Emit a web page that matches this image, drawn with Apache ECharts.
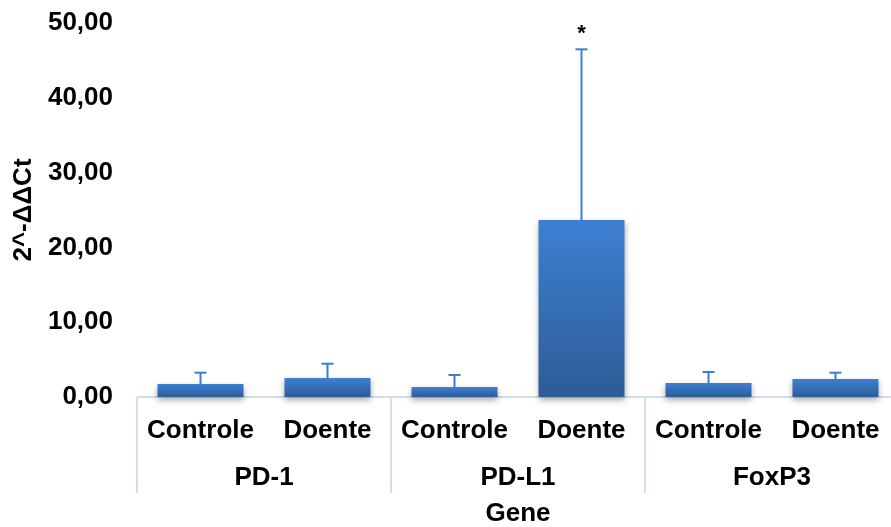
<!DOCTYPE html>
<html>
<head>
<meta charset="utf-8">
<script src="https://cdn.jsdelivr.net/npm/echarts@6/dist/echarts.min.js"></script>
<style>
  html, body { margin: 0; padding: 0; background: #ffffff; overflow: hidden; }
  #chart { width: 891px; height: 527px; }
</style>
</head>
<body>
<div id="chart"></div>
<script>
// Relative expression (2^-ΔΔCt) per gene and group
const genes = ['PD-1', 'PD-L1', 'FoxP3'];
const groups = ['Controle', 'Doente', 'Controle', 'Doente', 'Controle', 'Doente'];
const means = [1.74, 2.54, 1.34, 23.66, 1.87, 2.41];
const errors = [1.51, 1.91, 1.60, 22.82, 1.47, 0.84];
const significance = ['', '', '', '*', '', ''];
const yTicks = { min: 0, max: 50, interval: 10 };

const FONT = '"Liberation Sans", Arial, sans-serif';
const BLUE = '#3b7dce';
const AXIS_BLUE = '#cfdef0';

const chart = echarts.init(document.getElementById('chart'), null, { renderer: 'canvas' });

const errorData = means.map((m, i) => [i, m, m + errors[i]]);

chart.setOption({
  animation: false,
  backgroundColor: '#ffffff',
  grid: { left: 137, width: 762, top: 23, height: 374, containLabel: false, outerBoundsMode: 'none' },
  xAxis: [
    {
      type: 'category',
      data: groups,
      position: 'bottom',
      axisLine: { show: true, lineStyle: { color: AXIS_BLUE, width: 2 } },
      axisTick: { show: false },
      axisLabel: { interval: 0, color: '#000', fontFamily: FONT, fontWeight: 'bold', fontSize: 26, margin: 21 },
      name: 'Gene',
      nameLocation: 'middle',
      nameGap: 104,
      nameTextStyle: { color: '#000', fontFamily: FONT, fontWeight: 'bold', fontSize: 26 }
    },
    {
      type: 'category',
      data: genes,
      position: 'bottom',
      offset: 0,
      axisLine: { show: false },
      axisTick: { show: true, length: 96, lineStyle: { color: AXIS_BLUE, width: 2 } },
      axisLabel: { interval: 0, color: '#000', fontFamily: FONT, fontWeight: 'bold', fontSize: 26, margin: 68 },
      splitLine: { show: false }
    }
  ],
  yAxis: {
    type: 'value',
    min: yTicks.min,
    max: yTicks.max,
    interval: yTicks.interval,
    axisLine: { show: false },
    axisTick: { show: false },
    splitLine: { show: false },
    axisLabel: {
      color: '#000', fontFamily: FONT, fontWeight: 'bold', fontSize: 26, margin: 24,
      formatter: v => v.toFixed(2).replace('.', ',')
    },
    name: '2^-ΔΔCt',
    nameLocation: 'middle',
    nameGap: 95,
    nameTextStyle: { color: '#000', fontFamily: FONT, fontWeight: 'bold', fontSize: 26 }
  },
  series: [
    {
      type: 'bar',
      xAxisIndex: 0,
      data: means,
      barWidth: 86,
      itemStyle: {
        color: new echarts.graphic.LinearGradient(0, 0, 0, 1, [
          { offset: 0, color: '#3d80d2' },
          { offset: 1, color: '#2d5c97' }
        ]),
        shadowColor: 'rgba(0,0,0,0.35)',
        shadowBlur: 6,
        shadowOffsetY: 3
      },
      z: 2
    },
    {
      type: 'custom',
      xAxisIndex: 0,
      data: errorData,
      z: 3,
      renderItem: (params, api) => {
        const i = api.value(0);
        const base = api.coord([i, api.value(1)]);
        const top = api.coord([i, api.value(2)]);
        const style = { stroke: BLUE, lineWidth: 2 };
        const children = [
          { type: 'line', shape: { x1: base[0], y1: base[1], x2: top[0], y2: top[1] }, style },
          { type: 'line', shape: { x1: top[0] - 6, y1: top[1], x2: top[0] + 6, y2: top[1] }, style }
        ];
        if (significance[params.dataIndex]) {
          children.push({
            type: 'text',
            style: {
              text: significance[params.dataIndex],
              x: top[0], y: top[1] - 4,
              align: 'center', verticalAlign: 'bottom',
              fill: '#000', font: 'bold 22px ' + FONT
            }
          });
        }
        return { type: 'group', children };
      }
    }
  ]
});
</script>
</body>
</html>
